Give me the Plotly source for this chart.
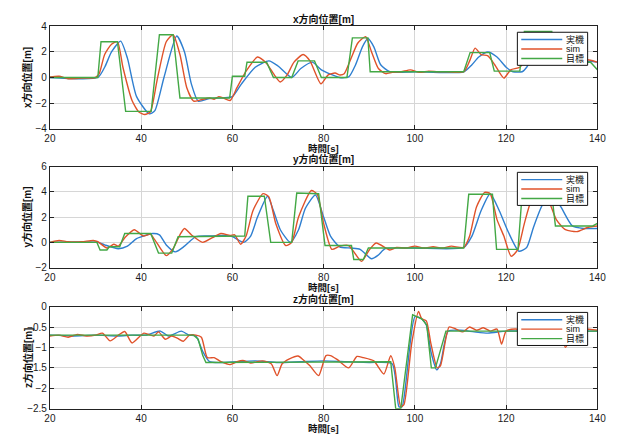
import plotly.graph_objects as go

# ---------------- data ----------------
# x direction
t_x_goal = [20, 30.5, 31.2, 34.8, 36.6, 42.2, 44.0, 47.0, 48.5, 59.4, 60.0, 62.7, 63.2, 67.5, 69.0, 73.0, 74.4, 78.0,
            79.5, 85.1, 86.3, 89.7, 90.2, 110.7, 112.1, 116.4, 117.4, 123.0, 124.0, 130.0, 131.0, 138.5, 140]
x_goal = [0, 0, 2.8, 2.8, -2.65, -2.65, 3.35, 3.35, -1.6, -1.6, 0.1, 0.1, 1.2, 1.2, 0, 0, 1.3, 1.3,
          0, 0, 3.1, 3.1, 0.45, 0.45, 1.95, 1.95, 0.5, 0.5, 3.6, 3.6, 1.2, 1.2, 0.6]

t_x_real = [20, 30.5, 32, 33.5, 35.5, 37, 39, 41.8, 43, 45, 47.8, 49.5, 51, 52.5, 55, 58, 60, 62, 65, 68, 70, 73,
            75, 77.5, 79.5, 83.5, 85.5, 87, 88.5, 89.7, 91, 92.5, 94.5, 100, 110.7, 112.5, 114, 116, 118, 120,
            121.5, 123.5, 124.5, 126.5, 129.5, 131.5, 134, 137, 140]
x_real = [0, 0, 0.8, 2.0, 2.85, 1.5, -1.5, -2.85, -2.6, 0, 3.25, 2.0, -0.5, -1.85, -1.65, -1.6, -1.5, -0.5, 0.8,
          1.3, 0.9, 0.0, 0.7, 1.2, 0.6, 0.0, 0.05, 1.0, 2.4, 3.05, 2.4, 1.0, 0.45, 0.45, 0.45, 1.0, 1.6, 2.0,
          1.6, 0.8, 0.45, 0.45, 0.8, 2.0, 3.3, 2.6, 1.5, 1.3, 1.2]

t_x_sim = [20, 22, 24, 27, 30, 30.8, 32, 33.5, 34.8, 36, 38, 39.5, 40.8, 42, 43.5, 45.5, 47, 48.5, 50, 51.5, 53,
           55, 56, 57, 58, 59.5, 61, 63, 65.5, 67.5, 69, 70.5, 72, 73.5, 75.5, 77, 79.4, 81, 82.5, 83.6, 84.5,
           86, 87.5, 89.2, 90.5, 92, 93.6, 95, 97, 99, 101, 103, 105, 107, 110.7, 112, 113.2, 114.5, 116, 117.5,
           119.5, 121, 123, 125, 128, 131, 133, 135, 137, 138.5, 140]
x_sim = [0.05, 0.1, -0.1, -0.05, 0, 0.3, 1.8, 2.6, 2.8, 0.8, -1.8, -2.7, -2.9, -2.7, -0.2, 2.8, 3.35, 1.8, -0.8,
         -1.85, -1.75, -1.6, -1.7, -1.5, -1.6, -1.8, -0.8, 0.5, 1.6, 1.1, 0.3, -0.35, 0.2, 1.2, 1.8, 1.3, -0.5,
         0.2, 0.35, 0.2, 0.3, 1.5, 2.7, 3.2, 2.0, 0.7, 0.3, 0.4, 0.45, 0.6, 0.4, 0.5, 0.45, 0.45, 0.45, 1.3, 2.3,
         1.8, 1.7, 1.0, -0.05, 0.6, 0.8, 1.8, 3.4, 2.2, 1.3, 1.0, 1.4, 1.35, 1.2]

# y direction
t_y_goal = [20, 30.3, 31.0, 32.5, 33.0, 35.3, 36.4, 42.1, 43.8, 46.7, 48.1, 55, 62.7, 63.4, 67.0, 68.4, 73.0,
            74.1, 78.9, 80.3, 86.1, 86.6, 88.7, 89.8, 110.7, 111.8, 117.0, 117.9, 122.6, 123.5, 130.0, 130.8,
            139, 140]
y_goal = [0, 0, -0.6, -0.6, -0.35, -0.35, 0.7, 0.7, -0.85, -0.85, 0.45, 0.5, 0.5, 3.65, 3.65, 0, 0,
          3.9, 3.85, -0.25, -0.25, -1.35, -1.35, -0.45, -0.45, 3.8, 3.8, -0.55, -0.55, 3.8, 3.8, 1.3,
          1.3, 1.5]

t_y_real = [20, 30.5, 32, 35, 37, 39, 42.5, 44, 45.5, 47.5, 49.5, 52, 55, 58, 60, 62.5, 64, 65.5, 67.7, 69,
            70.5, 72.7, 74.5, 76, 78.2, 80, 81.5, 83.5, 86, 88, 90.5, 92, 93.5, 100, 110.7, 112.5, 114.5, 116.5,
            118.5, 120.5, 122.8, 124.5, 126, 128, 130, 132, 134.5, 137, 140]
y_real = [0, 0, -0.2, -0.5, -0.3, 0.3, 0.7, 0.6, -0.2, -0.75, -0.3, 0.45, 0.5, 0.55, 0.45, 0.0, 0.5, 2.0, 3.65,
          2.5, 1.0, 0.0, 1.0, 2.7, 3.75, 2.0, 0.5, -0.35, -0.45, -0.55, -1.3, -1.0, -0.5, -0.45, -0.4, 0.5, 2.5,
          3.85, 2.5, 0.8, -0.7, -0.4, 1.2, 3.0, 3.8, 2.8, 1.3, 1.1, 1.1]

t_y_sim = [20, 22, 24, 27, 29.5, 30.5, 32.5, 34, 35, 36.5, 38.5, 40.5, 42, 43, 45.5, 47, 48.5, 49.5, 51, 53.5,
           55.5, 57.5, 59.5, 60.5, 61.8, 63, 64.5, 66.7, 68, 69.5, 71.7, 73, 74.5, 77.3, 78.6, 80, 81.8, 83.5,
           85.5, 88.3, 90.0, 91.5, 94.5, 96, 98, 100, 102, 104, 106, 108, 110.7, 112, 113.5, 115.3, 116.5, 118,
           119.5, 121.1, 122.5, 124, 125.5, 127, 129, 131, 133, 135.5, 138, 140]
y_sim = [0, 0.15, 0.05, 0.05, 0.15, 0.05, -0.45, -0.15, -0.3, 0.4, 1.0, 0.5, 0.65, 0.2, -1.05, -0.5, 0.6, 1.1,
         0.6, 0.0, 0.35, 0.7, 0.55, 0.6, -0.15, 0.5, 2.5, 3.85, 3.6, 1.5, -0.25, 0.0, 2.0, 4.1, 3.8, 1.5, -0.55,
         -0.3, -0.25, -1.5, -0.6, -0.05, -0.6, -0.4, -0.45, -0.3, -0.45, -0.35, -0.45, -0.3, -0.4, 0.5, 2.8,
         3.95, 3.85, 1.8, 0.5, -1.1, -0.6, 1.5, 3.3, 3.9, 3.5, 1.8, 1.0, 0.85, 1.2, 1.3]

# z direction
t_z_goal = [20, 51.5, 52.5, 53.5, 54.2, 94.7, 95.8, 96.9, 99.5, 101.5, 102.6, 103.6, 104.5, 106.8, 140]
z_goal = [-0.7, -0.7, -0.8, -1.2, -1.37, -1.35, -2.5, -2.5, -0.2, -0.3, -0.45, -1.5, -1.5, -0.6, -0.6]

t_z_real = [20, 25, 30, 35, 38, 41, 44.2, 46, 48.8, 50.5, 52, 53.5, 55, 58, 65, 70, 75, 80, 85, 90, 95.0,
            96.5, 97.2, 100, 101.5, 102.5, 103.5, 104.8, 105.6, 107.3, 110, 113, 116, 120, 125, 130, 140]
z_real = [-0.7, -0.72, -0.7, -0.72, -0.7, -0.7, -0.6, -0.72, -0.6, -0.7, -0.72, -1.1, -1.35, -1.37, -1.33,
          -1.37, -1.35, -1.33, -1.35, -1.37, -1.4, -2.45, -2.45, -0.25, -0.3, -0.45, -1.1, -1.55, -1.4, -0.6,
          -0.58, -0.62, -0.65, -0.6, -0.6, -0.6, -0.6]

t_z_sim = [20, 22, 24, 26, 28, 30, 31.5, 33.2, 35, 36.4, 38, 40.6, 42.8, 43.8, 45.3, 46.7, 48, 49.2, 50.6, 52,
           53.2, 54.5, 56, 57.5, 59.5, 61, 62.3, 64, 66.6, 68.5, 69.8, 70.9, 72.5, 74.4, 75.5, 77, 78.9, 80.5,
           81.5, 83, 85.5, 87.3, 88.7, 91, 93.2, 94.7, 95.6, 96.9, 97.6, 99.3, 100.8, 101.5, 102.5, 103.5, 104.9,
           105.6, 107.5, 109, 110.5, 112, 113.5, 115, 116.5, 118, 119, 120, 122, 125, 128, 130, 132, 133, 135,
           137, 140]
z_sim = [-0.72, -0.7, -0.75, -0.68, -0.72, -0.7, -0.65, -0.84, -0.7, -0.61, -0.89, -0.65, -0.72, -0.62, -0.8,
         -0.72, -0.78, -0.85, -0.7, -0.7, -0.75, -1.25, -1.25, -1.35, -1.42, -1.35, -1.32, -1.38, -1.33, -1.4,
         -1.69, -1.4, -1.28, -1.21, -1.3, -1.45, -1.69, -1.2, -1.2, -1.3, -1.5, -1.22, -1.25, -1.33, -1.65, -1.2,
         -1.5, -2.45, -2.4, -0.9, -0.12, -0.3, -0.35, -0.9, -1.5, -1.45, -0.5, -0.55, -0.62, -0.5, -0.58, -0.52,
         -0.6, -0.55, -0.92, -0.6, -0.55, -0.6, -0.55, -0.6, -0.62, -1.0, -0.6, -0.55, -0.58]

names = ["実機", "sim", "目標"]
titles = ["x方向位置[m]", "y方向位置[m]", "z方向位置[m]"]
xlabel = "時間[s]"
y_ranges = [[-4, 4], [-2, 6], [-2.5, 0]]
y_dticks = [2, 2, 0.5]

# ---------------- style ----------------
C_BLUE = "#2f7fd0"
C_RED = "#e0522a"
C_GREEN = "#43a845"
FONT = "Liberation Sans, Arial, Noto Sans CJK JP, sans-serif"
W, H = 622, 440
plot_l, plot_r = 45, 606
rows_px = [(21, 126), (165, 269), (309, 414)]

fig = go.Figure()
series = [
    [(t_x_real, x_real), (t_x_sim, x_sim), (t_x_goal, x_goal)],
    [(t_y_real, y_real), (t_y_sim, y_sim), (t_y_goal, y_goal)],
    [(t_z_real, z_real), (t_z_sim, z_sim), (t_z_goal, z_goal)],
]
colors = [C_BLUE, C_RED, C_GREEN]
shapes_kind = ["spline", "spline", "linear"]

for i, row in enumerate(series):
    sfx = "" if i == 0 else str(i + 1)
    for j, (tt, vv) in enumerate(row):
        fig.add_trace(go.Scatter(
            x=tt, y=vv, mode="lines", name=names[j], showlegend=False,
            line=dict(color=colors[j], width=1.4, shape=shapes_kind[j], smoothing=0.6),
            xaxis="x" + sfx, yaxis="y" + sfx,
        ))

layout = dict(width=W, height=H, margin=dict(l=0, r=0, t=0, b=0),
              paper_bgcolor="white", plot_bgcolor="white", showlegend=False,
              font=dict(family=FONT, size=10, color="#1a1a1a"))
annotations = []
shapes = []
for i, (top, bot) in enumerate(rows_px):
    sfx = "" if i == 0 else str(i + 1)
    ydom = [1 - bot / H, 1 - top / H]
    layout["xaxis" + sfx] = dict(
        domain=[plot_l / W, plot_r / W], range=[20, 140], dtick=20, tick0=20,
        anchor="y" + sfx, showgrid=True, gridcolor="#d6d6d6", gridwidth=1,
        showline=True, linecolor="#222", linewidth=1, mirror="ticks",
        ticks="inside", ticklen=4, tickcolor="#222", zeroline=False,
        tickfont=dict(size=10, color="#1a1a1a"))
    layout["yaxis" + sfx] = dict(
        domain=ydom, range=y_ranges[i], dtick=y_dticks[i],
        anchor="x" + sfx, showgrid=True, gridcolor="#d6d6d6", gridwidth=1,
        showline=True, linecolor="#222", linewidth=1, mirror="ticks",
        ticks="inside", ticklen=4, tickcolor="#222", zeroline=False,
        tickfont=dict(size=10, color="#1a1a1a"))
    # titles / labels
    annotations.append(dict(text="<b>" + titles[i] + "</b>", x=(plot_l + plot_r) / 2 / W,
                            y=1 - (top - 8) / H, xref="paper", yref="paper",
                            xanchor="center", yanchor="middle",
                            showarrow=False, font=dict(size=10, color="#111")))
    annotations.append(dict(text="<b>" + xlabel + "</b>", x=(plot_l + plot_r) / 2 / W,
                            y=1 - (bot + 20) / H, xref="paper", yref="paper",
                            xanchor="center", yanchor="middle",
                            showarrow=False, font=dict(size=9.5, color="#111")))
    annotations.append(dict(text="<b>" + titles[i] + "</b>", x=22 / W,
                            y=1 - (top + bot) / 2 / H, xref="paper", yref="paper",
                            xanchor="center", yanchor="middle",
                            textangle=-90, showarrow=False, font=dict(size=10, color="#111")))
    # legend box (drawn as shapes + text)
    bx0, bx1 = 524, 596
    by0, by1 = top + 6, top + 40
    shapes.append(dict(type="rect", xref="paper", yref="paper",
                       x0=bx0 / W, x1=bx1 / W, y0=1 - by1 / H, y1=1 - by0 / H,
                       line=dict(color="#111", width=1), fillcolor="white", layer="above"))
    for j in range(3):
        ly = by0 + 7.5 + j * 9.7
        shapes.append(dict(type="line", xref="paper", yref="paper",
                           x0=528 / W, x1=570 / W, y0=1 - ly / H, y1=1 - ly / H,
                           line=dict(color=colors[j], width=1.4), layer="above"))
        annotations.append(dict(text=names[j], x=572 / W, y=1 - ly / H, xref="paper", yref="paper",
                                xanchor="left", yanchor="middle", showarrow=False,
                                font=dict(size=9, color="#111")))
layout["annotations"] = annotations
layout["shapes"] = shapes
fig.update_layout(**layout)
fig.write_html("out.html")
